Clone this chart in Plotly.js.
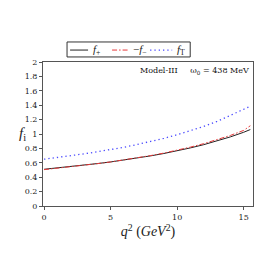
<!DOCTYPE html>
<html><head><meta charset="utf-8">
<script src="https://cdn.plot.ly/plotly-3.0.1.min.js"></script>
<style>html,body{margin:0;padding:0;background:#fff}#c{width:273px;height:273px}</style>
</head><body><div id="c"></div>
<script>
const q2 = [0,1,2,3,4,5,6,7,8,9,10,11,12,13,14,15,15.5];
const fPlus  = [0.51,0.528,0.547,0.567,0.589,0.612,0.638,0.666,0.696,0.729,0.766,0.807,0.852,0.903,0.96,1.024,1.062];
const fMinus = [0.505,0.524,0.544,0.565,0.588,0.612,0.639,0.668,0.700,0.735,0.774,0.818,0.866,0.920,0.980,1.050,1.115];
const fT     = [0.65,0.673,0.698,0.724,0.753,0.783,0.816,0.854,0.895,0.94,0.99,1.045,1.105,1.175,1.255,1.34,1.385];
const names = ['<i>f</i><sub>+</sub>','−<i>f</i><sub>−</sub>','<i>f</i><sub>T</sub>'];
const yTicks = [0,0.2,0.4,0.6,0.8,1,1.2,1.4,1.6,1.8,2];
const yTickText = ['0','0.2','0.4','0.6','0.8','1','1.2','1.4','1.6','1.8','2'];
const xTicks = [0,5,10,15];

const serif = 'DejaVu Serif, Liberation Serif, serif';
const tserif = 'Liberation Serif, DejaVu Serif, serif';
const colors = ['#222','#e8393a','#4a4aff'];
const dashes = ['solid','5px,2px,1.5px,2px','1.3px,3px'];
const widths = [1,1,1.3];
const traces = [fPlus,fMinus,fT].map((ys,i)=>({
  x:q2, y:ys, name:names[i], mode:'lines', showlegend:false,
  line:{color:colors[i], width:widths[i], dash:dashes[i]}
}));

// custom compact legend (paper coordinates)
const legItems = [
  {x0:0.129, x1:0.2146, tx:0.228},
  {x0:0.329, x1:0.405, tx:0.418},
  {x0:0.510, x1:0.615, tx:0.630}
];
const legY = 1.083;
const shapes = [
  {type:'rect', xref:'paper', yref:'paper', x0:0.1145, x1:0.701, y0:1.035, y1:1.139,
   line:{color:'#333', width:1}, fillcolor:'#fff'}
];
const annotations = [
  {xref:'paper', yref:'paper', x:0.99, y:0.985, xanchor:'right', yanchor:'top', showarrow:false,
   text:'Model-III&nbsp;&nbsp;&nbsp;&nbsp;&nbsp;ω<sub>0</sub> = 438 MeV', font:{size:8, family:serif, color:'#111'}},
  {xref:'paper', yref:'paper', x:-0.07, y:0.5, xanchor:'right', yanchor:'middle', showarrow:false,
   text:'<i>f</i><sub>i</sub>', font:{size:15, family:tserif, color:'#222'}}
];
legItems.forEach((it,i)=>{
  shapes.push({type:'line', xref:'paper', yref:'paper', x0:it.x0, x1:it.x1, y0:legY, y1:legY,
    line:{color:colors[i], width:widths[i], dash:dashes[i]}});
  annotations.push({xref:'paper', yref:'paper', x:it.tx, y:legY, xanchor:'left', yanchor:'middle',
    showarrow:false, text:names[i], font:{size:11, family:tserif, color:'#222'}});
});

const layout = {
  width:273, height:273,
  margin:{l:43, r:20, t:62, b:67},
  paper_bgcolor:'#fff', plot_bgcolor:'#fff',
  font:{family:serif, size:8, color:'#222'},
  showlegend:false,
  shapes:shapes,
  annotations:annotations,
  xaxis:{range:[-0.08,15.7], tickvals:xTicks, ticks:'outside', ticklen:3, tickcolor:'#555',
         showline:true, linecolor:'#555', linewidth:1, mirror:true, showgrid:false, zeroline:false,
         tickfont:{size:8, family:serif},
         title:{text:'<i>q</i><sup>2</sup> (<i>GeV</i><sup>2</sup>)', font:{size:14, family:tserif}, standoff:5}},
  yaxis:{range:[0,2.0], tickvals:yTicks, ticktext:yTickText, ticks:'outside', ticklen:3, tickcolor:'#555',
         showline:true, linecolor:'#555', linewidth:1, mirror:true, showgrid:false, zeroline:false,
         tickfont:{size:8, family:serif}}
};
Plotly.newPlot('c', traces, layout, {displayModeBar:false, staticPlot:true});
</script></body></html>
